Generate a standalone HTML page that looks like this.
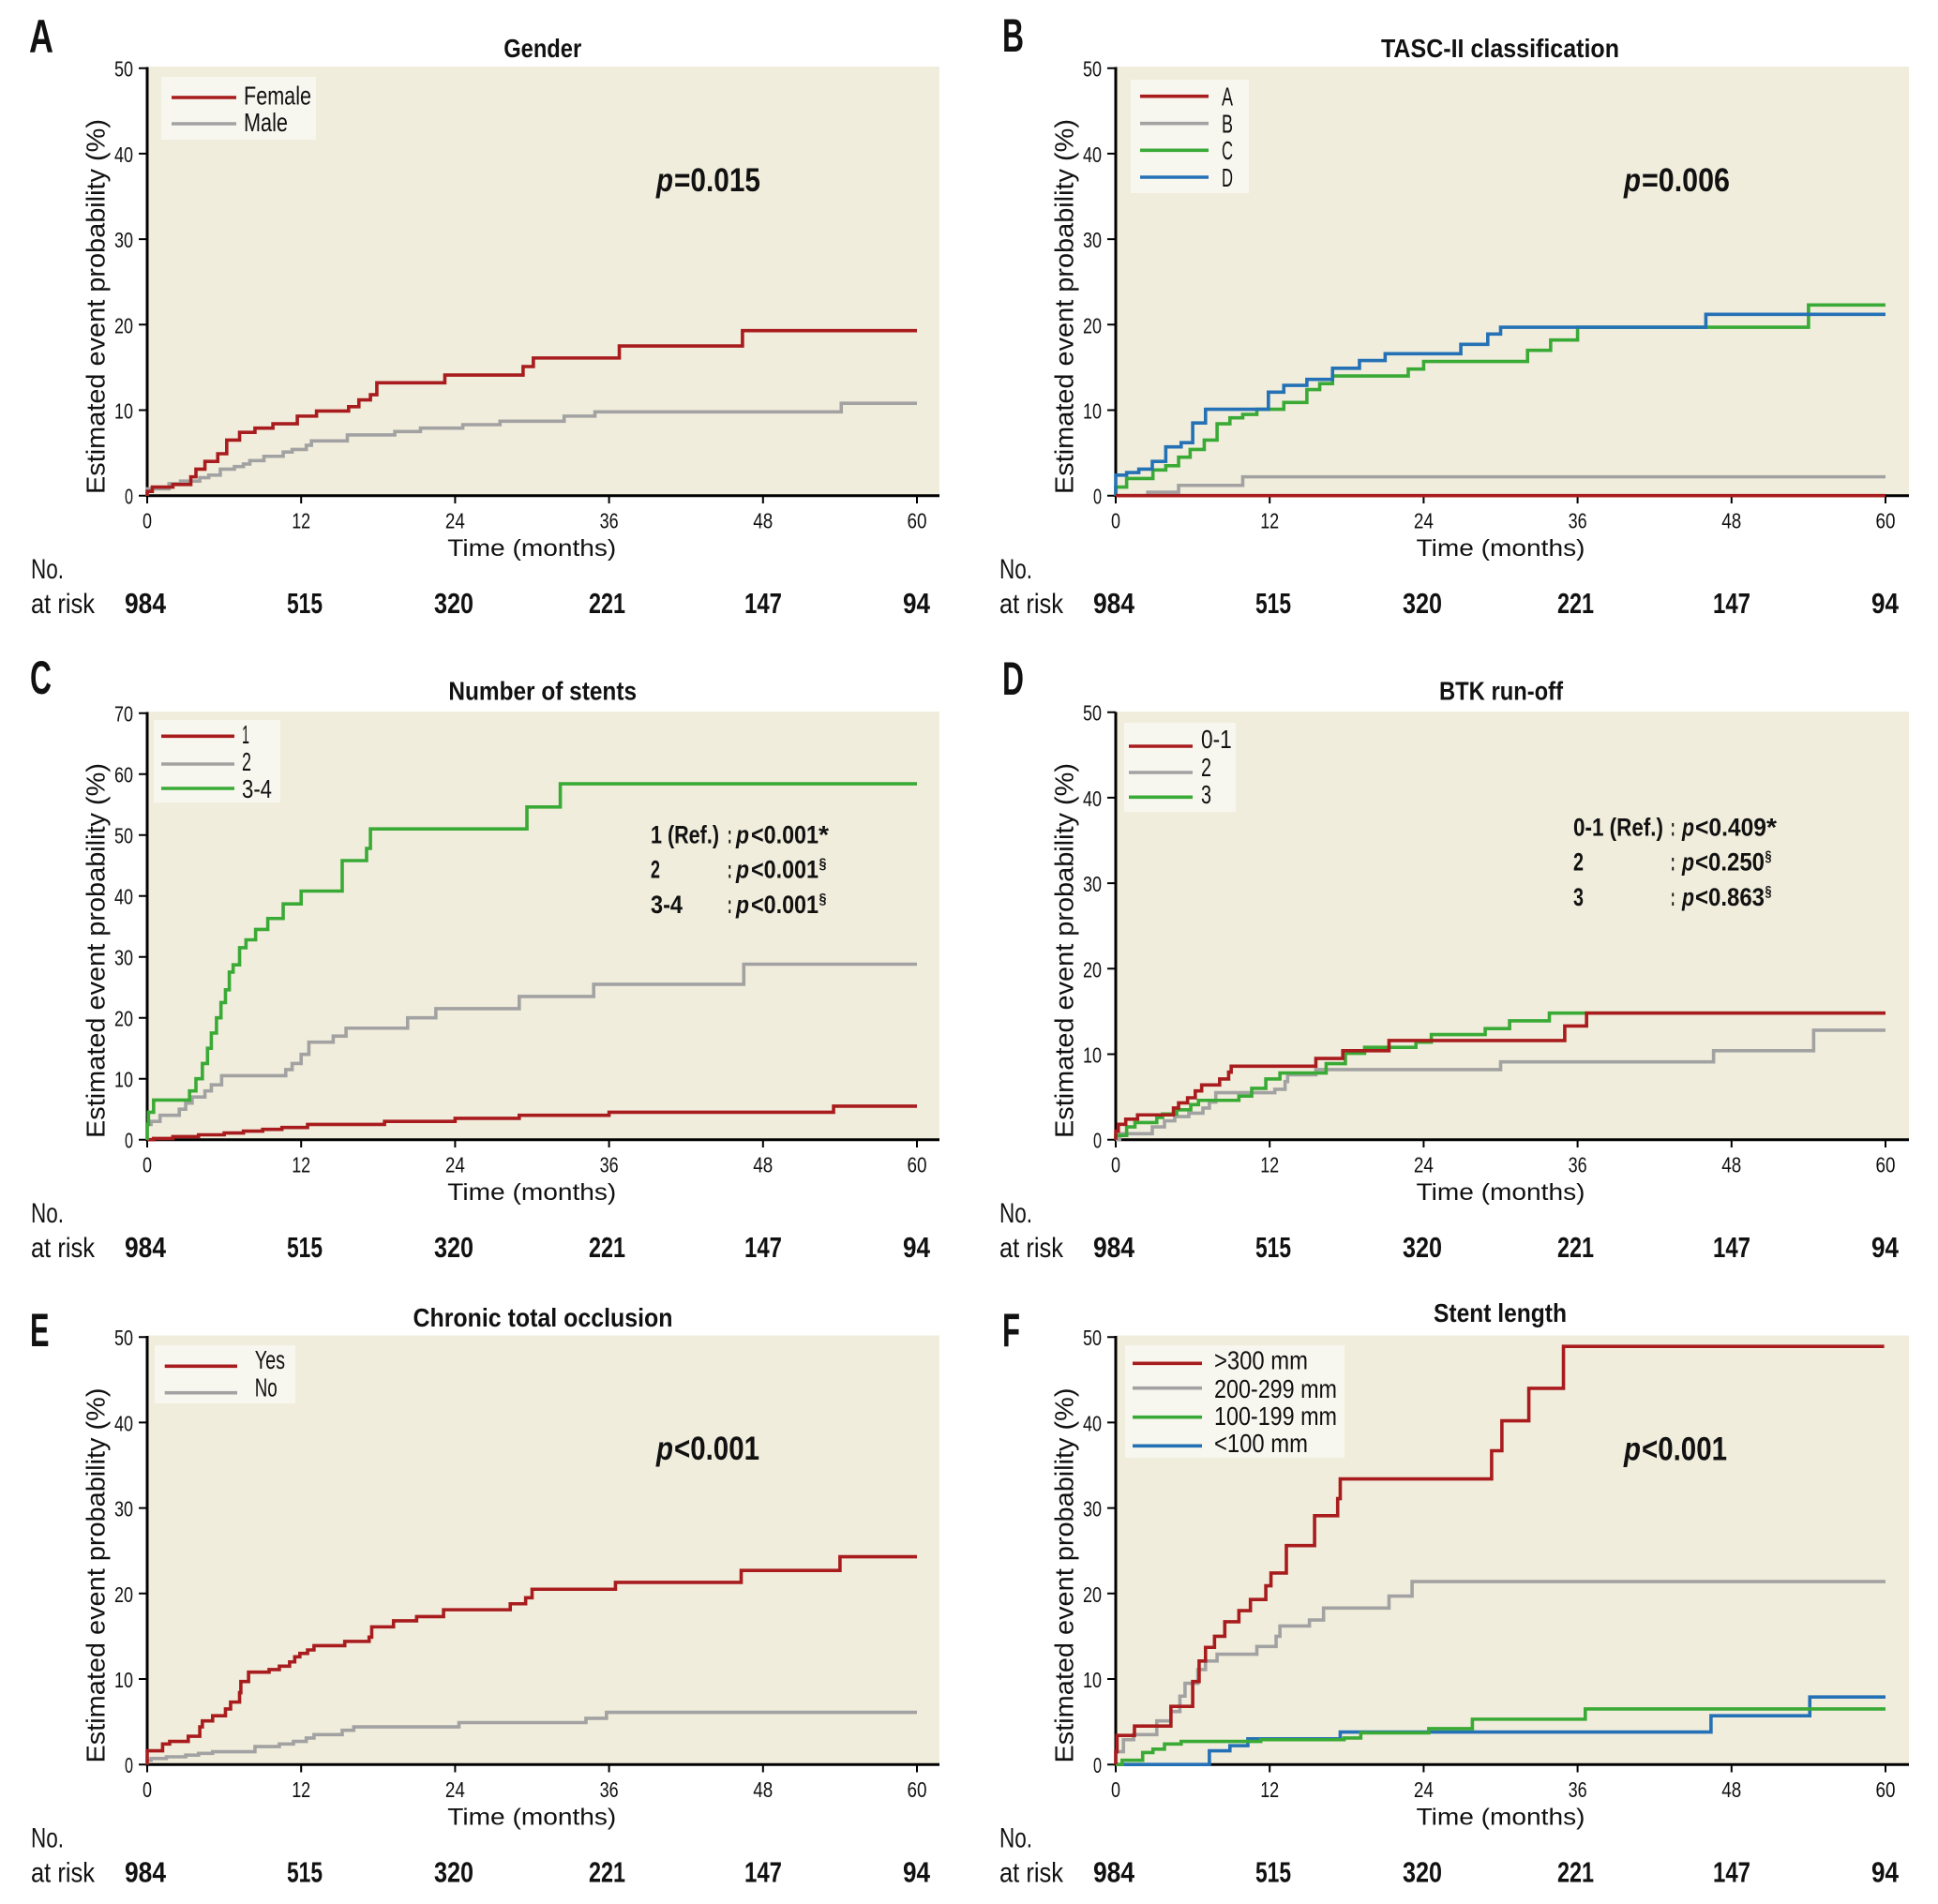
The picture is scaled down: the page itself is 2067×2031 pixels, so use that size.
<!DOCTYPE html>
<html><head><meta charset="utf-8"><style>
body{margin:0;background:#fff}
svg{display:block}
text{font-family:"Liberation Sans",Arial,sans-serif;fill:#111}
.b{font-weight:bold}
.i{font-style:italic}
.ax{stroke:#000;fill:none}
.s{fill:none;stroke-width:3.6;vector-effect:non-scaling-stroke;stroke-linejoin:miter;stroke-linecap:butt}
.r{stroke:#a81c1e}.g{stroke:#a2a2a2}.gr{stroke:#3aaa36}.bl{stroke:#2471b6}
.t{font-size:23px}
.lg{font-size:28px}
</style></head><body>
<svg width="2067" height="2031" viewBox="0 0 2067 2031" xmlns="http://www.w3.org/2000/svg">
<rect width="2067" height="2031" fill="#fff"/>

<!-- ================= PANEL A ================= -->
<g transform="translate(0,0)">
<text x="31" y="56" font-size="50" class="b" textLength="26" lengthAdjust="spacingAndGlyphs">A</text>
<text x="578.7" y="61" font-size="28" class="b" text-anchor="middle" textLength="83" lengthAdjust="spacingAndGlyphs">Gender</text>
<rect x="157" y="71" width="845" height="457.7" fill="#f1eddc"/>
<path class="ax" stroke-width="3" d="M157 71.5V530.2M155.5 528.7H1002"/>
<path class="ax" stroke-width="2" d="M148 72.7H157M148 163.9H157M148 255.1H157M148 346.3H157M148 437.5H157M148 528.7H157M157 528.7V537M321.2 528.7V537M485.4 528.7V537M649.6 528.7V537M813.8 528.7V537M978 528.7V537"/>
<g class="t" text-anchor="end">
<text x="142" y="537.7" textLength="9" lengthAdjust="spacingAndGlyphs">0</text>
<text x="142" y="446.5" textLength="20" lengthAdjust="spacingAndGlyphs">10</text>
<text x="142" y="355.3" textLength="20" lengthAdjust="spacingAndGlyphs">20</text>
<text x="142" y="264.1" textLength="20" lengthAdjust="spacingAndGlyphs">30</text>
<text x="142" y="172.9" textLength="20" lengthAdjust="spacingAndGlyphs">40</text>
<text x="142" y="81.7" textLength="20" lengthAdjust="spacingAndGlyphs">50</text>
</g>
<g class="t" text-anchor="middle">
<text x="157" y="563.3" textLength="10" lengthAdjust="spacingAndGlyphs">0</text>
<text x="321.2" y="563.3" textLength="20" lengthAdjust="spacingAndGlyphs">12</text>
<text x="485.4" y="563.3" textLength="21" lengthAdjust="spacingAndGlyphs">24</text>
<text x="649.6" y="563.3" textLength="20" lengthAdjust="spacingAndGlyphs">36</text>
<text x="813.8" y="563.3" textLength="21" lengthAdjust="spacingAndGlyphs">48</text>
<text x="978" y="563.3" textLength="21" lengthAdjust="spacingAndGlyphs">60</text>
</g>
<text x="567.3" y="593" font-size="25" text-anchor="middle" textLength="180" lengthAdjust="spacingAndGlyphs">Time (months)</text>
<text transform="translate(111.5,327) rotate(-90)" font-size="28" text-anchor="middle" textLength="400" lengthAdjust="spacingAndGlyphs">Estimated event probability (%)</text>
<text x="33" y="617" font-size="30" textLength="35" lengthAdjust="spacingAndGlyphs">No.</text>
<text x="33" y="654" font-size="30" textLength="68" lengthAdjust="spacingAndGlyphs">at risk</text>
<g font-size="31" class="b" text-anchor="middle">
<text x="155" y="654" textLength="44" lengthAdjust="spacingAndGlyphs">984</text>
<text x="325" y="654" textLength="38" lengthAdjust="spacingAndGlyphs">515</text>
<text x="484" y="654" textLength="42" lengthAdjust="spacingAndGlyphs">320</text>
<text x="647.5" y="654" textLength="39" lengthAdjust="spacingAndGlyphs">221</text>
<text x="814" y="654" textLength="40" lengthAdjust="spacingAndGlyphs">147</text>
<text x="977.5" y="654" textLength="29" lengthAdjust="spacingAndGlyphs">94</text>
</g>
<rect x="172" y="82" width="165" height="67" fill="#f8f7ef"/>
<line x1="183" y1="104" x2="252" y2="104" class="s r"/>
<line x1="183" y1="132" x2="252" y2="132" class="s g"/>
<text x="260" y="111.5" class="lg" textLength="72" lengthAdjust="spacingAndGlyphs">Female</text>
<text x="260" y="140" class="lg" textLength="47" lengthAdjust="spacingAndGlyphs">Male</text>
<text x="700" y="204" font-size="35" class="b i" textLength="18" lengthAdjust="spacingAndGlyphs">p</text>
<text x="719" y="204" font-size="35" class="b" textLength="92" lengthAdjust="spacingAndGlyphs">=0.015</text>
<g transform="translate(157,528.7) scale(13.683,-9.12)">
<path class="s g" d="M0 0V0.8H1.7V1.4H2.6V1.7H4.1V2.1H4.8V2.4H5.7V3.1H6.8V3.4H7.5V3.7H8V4.1H9.1V4.6H10.6V5.1H11.3V5.4H12.4V5.9H12.8V6.4H15.6V7.1H19.3V7.5H21.3V7.9H24.6V8.3H27.5V8.7H32.5V9.3H34.9V9.8H54.1V10.8H60"/>
<path class="s r" d="M0 0V0.5H0.4V1H2V1.3H3.4V2.2H3.8V3.1H4.5V4H5.5V4.9H6.2V6.5H7.2V7.4H8.4V7.9H9.8V8.4H11.7V9.3H13.2V9.9H15.7V10.4H16.5V11.2H17.4V11.8H17.9V13.2H23.2V14.1H29.3V15.1H30.1V16.1H36.8V17.5H46.4V19.3H60"/>
</g>
</g>

<!-- ================= PANEL B ================= -->
<g transform="translate(1033,0)">
<text x="36" y="55" font-size="50" class="b" textLength="23" lengthAdjust="spacingAndGlyphs">B</text>
<text x="567" y="61" font-size="28" class="b" text-anchor="middle" textLength="254" lengthAdjust="spacingAndGlyphs">TASC-II classification</text>
<rect x="157" y="71" width="846" height="457.7" fill="#f1eddc"/>
<path class="ax" stroke-width="3" d="M157 71.5V530.2M155.5 528.7H1003"/>
<path class="ax" stroke-width="2" d="M148 72.7H157M148 163.9H157M148 255.1H157M148 346.3H157M148 437.5H157M148 528.7H157M157 528.7V537M321.2 528.7V537M485.4 528.7V537M649.6 528.7V537M813.8 528.7V537M978 528.7V537"/>
<g class="t" text-anchor="end">
<text x="142" y="537.7" textLength="9" lengthAdjust="spacingAndGlyphs">0</text>
<text x="142" y="446.5" textLength="20" lengthAdjust="spacingAndGlyphs">10</text>
<text x="142" y="355.3" textLength="20" lengthAdjust="spacingAndGlyphs">20</text>
<text x="142" y="264.1" textLength="20" lengthAdjust="spacingAndGlyphs">30</text>
<text x="142" y="172.9" textLength="20" lengthAdjust="spacingAndGlyphs">40</text>
<text x="142" y="81.7" textLength="20" lengthAdjust="spacingAndGlyphs">50</text>
</g>
<g class="t" text-anchor="middle">
<text x="157" y="563.3" textLength="10" lengthAdjust="spacingAndGlyphs">0</text>
<text x="321.2" y="563.3" textLength="20" lengthAdjust="spacingAndGlyphs">12</text>
<text x="485.4" y="563.3" textLength="21" lengthAdjust="spacingAndGlyphs">24</text>
<text x="649.6" y="563.3" textLength="20" lengthAdjust="spacingAndGlyphs">36</text>
<text x="813.8" y="563.3" textLength="21" lengthAdjust="spacingAndGlyphs">48</text>
<text x="978" y="563.3" textLength="21" lengthAdjust="spacingAndGlyphs">60</text>
</g>
<text x="567.5" y="593" font-size="25" text-anchor="middle" textLength="180" lengthAdjust="spacingAndGlyphs">Time (months)</text>
<text transform="translate(111.5,327) rotate(-90)" font-size="28" text-anchor="middle" textLength="400" lengthAdjust="spacingAndGlyphs">Estimated event probability (%)</text>
<text x="33" y="617" font-size="30" textLength="35" lengthAdjust="spacingAndGlyphs">No.</text>
<text x="33" y="654" font-size="30" textLength="68" lengthAdjust="spacingAndGlyphs">at risk</text>
<g font-size="31" class="b" text-anchor="middle">
<text x="155" y="654" textLength="44" lengthAdjust="spacingAndGlyphs">984</text>
<text x="325" y="654" textLength="38" lengthAdjust="spacingAndGlyphs">515</text>
<text x="484" y="654" textLength="42" lengthAdjust="spacingAndGlyphs">320</text>
<text x="647.5" y="654" textLength="39" lengthAdjust="spacingAndGlyphs">221</text>
<text x="814" y="654" textLength="40" lengthAdjust="spacingAndGlyphs">147</text>
<text x="977.5" y="654" textLength="29" lengthAdjust="spacingAndGlyphs">94</text>
</g>
<rect x="173" y="85" width="126" height="121" fill="#f8f7ef"/>
<line x1="183" y1="102.7" x2="256" y2="102.7" class="s r"/>
<line x1="183" y1="131.7" x2="256" y2="131.7" class="s g"/>
<line x1="183" y1="160.3" x2="256" y2="160.3" class="s gr"/>
<line x1="183" y1="189" x2="256" y2="189" class="s bl"/>
<text x="270" y="112.5" class="lg" textLength="12" lengthAdjust="spacingAndGlyphs">A</text>
<text x="270" y="141.5" class="lg" textLength="12" lengthAdjust="spacingAndGlyphs">B</text>
<text x="270" y="170" class="lg" textLength="12" lengthAdjust="spacingAndGlyphs">C</text>
<text x="270" y="199" class="lg" textLength="12" lengthAdjust="spacingAndGlyphs">D</text>
<text x="699" y="204" font-size="35" class="b i" textLength="18" lengthAdjust="spacingAndGlyphs">p</text>
<text x="718" y="204" font-size="35" class="b" textLength="94" lengthAdjust="spacingAndGlyphs">=0.006</text>
<g transform="translate(157,528.7) scale(13.683,-9.12)">
<path class="s g" d="M0 0H2.5V0.4H4.9V1.2H9.9V2.2H60"/>
<path class="s gr" d="M0 0V1H0.85V2H2.9V3H3.9V3.5H4.9V4.5H5.8V5.4H6.9V6.5H7.9V8.4H8.9V9.1H9.9V9.5H11V10.1H13.1V10.9H14.9V12.4H15.9V13.1H16.9V14H22.8V14.8H24V15.7H32.1V17H33.9V18.2H36V19.7H54V22.3H60"/>
<path class="s bl" d="M0 0V2.4H0.85V2.7H1.8V3.1H2.85V4H3.9V5.7H5.1V6.2H6V8.5H7V10.1H11.9V12.1H13.1V12.9H14.9V13.6H16.9V14.9H19V15.8H21V16.6H26.9V17.7H29V18.9H30V19.7H46V21.2H60"/>
<path class="s r" d="M0 0H60"/>
</g>
</g>

<!-- ================= PANEL C ================= -->
<g transform="translate(0,687)">
<text x="32" y="53" font-size="50" class="b" textLength="23" lengthAdjust="spacingAndGlyphs">C</text>
<text x="578.7" y="59.7" font-size="28" class="b" text-anchor="middle" textLength="200.7" lengthAdjust="spacingAndGlyphs">Number of stents</text>
<rect x="157" y="72" width="845" height="456.7" fill="#f1eddc"/>
<path class="ax" stroke-width="3" d="M157 72.5V530.2M155.5 528.7H1002"/>
<path class="ax" stroke-width="2" d="M148 73.7H157M148 138.7H157M148 203.7H157M148 268.7H157M148 333.7H157M148 398.7H157M148 463.7H157M148 528.7H157M157 528.7V537M321.2 528.7V537M485.4 528.7V537M649.6 528.7V537M813.8 528.7V537M978 528.7V537"/>
<g class="t" text-anchor="end">
<text x="142" y="537.7" textLength="9" lengthAdjust="spacingAndGlyphs">0</text>
<text x="142" y="472.7" textLength="20" lengthAdjust="spacingAndGlyphs">10</text>
<text x="142" y="407.7" textLength="20" lengthAdjust="spacingAndGlyphs">20</text>
<text x="142" y="342.7" textLength="20" lengthAdjust="spacingAndGlyphs">30</text>
<text x="142" y="277.7" textLength="20" lengthAdjust="spacingAndGlyphs">40</text>
<text x="142" y="212.7" textLength="20" lengthAdjust="spacingAndGlyphs">50</text>
<text x="142" y="147.7" textLength="20" lengthAdjust="spacingAndGlyphs">60</text>
<text x="142" y="82.7" textLength="20" lengthAdjust="spacingAndGlyphs">70</text>
</g>
<g class="t" text-anchor="middle">
<text x="157" y="563.3" textLength="10" lengthAdjust="spacingAndGlyphs">0</text>
<text x="321.2" y="563.3" textLength="20" lengthAdjust="spacingAndGlyphs">12</text>
<text x="485.4" y="563.3" textLength="21" lengthAdjust="spacingAndGlyphs">24</text>
<text x="649.6" y="563.3" textLength="20" lengthAdjust="spacingAndGlyphs">36</text>
<text x="813.8" y="563.3" textLength="21" lengthAdjust="spacingAndGlyphs">48</text>
<text x="978" y="563.3" textLength="21" lengthAdjust="spacingAndGlyphs">60</text>
</g>
<text x="567.3" y="593" font-size="25" text-anchor="middle" textLength="180" lengthAdjust="spacingAndGlyphs">Time (months)</text>
<text transform="translate(111.5,327) rotate(-90)" font-size="28" text-anchor="middle" textLength="400" lengthAdjust="spacingAndGlyphs">Estimated event probability (%)</text>
<text x="33" y="617" font-size="30" textLength="35" lengthAdjust="spacingAndGlyphs">No.</text>
<text x="33" y="654" font-size="30" textLength="68" lengthAdjust="spacingAndGlyphs">at risk</text>
<g font-size="31" class="b" text-anchor="middle">
<text x="155" y="654" textLength="44" lengthAdjust="spacingAndGlyphs">984</text>
<text x="325" y="654" textLength="38" lengthAdjust="spacingAndGlyphs">515</text>
<text x="484" y="654" textLength="42" lengthAdjust="spacingAndGlyphs">320</text>
<text x="647.5" y="654" textLength="39" lengthAdjust="spacingAndGlyphs">221</text>
<text x="814" y="654" textLength="40" lengthAdjust="spacingAndGlyphs">147</text>
<text x="977.5" y="654" textLength="29" lengthAdjust="spacingAndGlyphs">94</text>
</g>
<rect x="164" y="81" width="135" height="88" fill="#f8f7ef"/>
<line x1="172" y1="98.3" x2="250" y2="98.3" class="s r"/>
<line x1="172" y1="128" x2="250" y2="128" class="s g"/>
<line x1="172" y1="154" x2="250" y2="154" class="s gr"/>
<text x="258" y="106" class="lg" textLength="8" lengthAdjust="spacingAndGlyphs">1</text>
<text x="258" y="135" class="lg" textLength="10" lengthAdjust="spacingAndGlyphs">2</text>
<text x="258" y="164" class="lg" textLength="32" lengthAdjust="spacingAndGlyphs">3-4</text>
<g font-size="27" class="b">
<text x="694" y="212.3" textLength="73" lengthAdjust="spacingAndGlyphs">1 (Ref.)</text>
<text x="776" y="212.3" textLength="4.5" lengthAdjust="spacingAndGlyphs">:</text>
<text x="785" y="212.3" class="i" textLength="14" lengthAdjust="spacingAndGlyphs">p</text>
<text x="801" y="212.3" textLength="72" lengthAdjust="spacingAndGlyphs">&lt;0.001</text>
<text x="873" y="212.3" textLength="11" lengthAdjust="spacingAndGlyphs">*</text>
<text x="694" y="249.7" textLength="10" lengthAdjust="spacingAndGlyphs">2</text>
<text x="776" y="249.7" textLength="4.5" lengthAdjust="spacingAndGlyphs">:</text>
<text x="785" y="249.7" class="i" textLength="14" lengthAdjust="spacingAndGlyphs">p</text>
<text x="801" y="249.7" textLength="72" lengthAdjust="spacingAndGlyphs">&lt;0.001</text>
<text x="873.5" y="239.7" font-size="16" textLength="8" lengthAdjust="spacingAndGlyphs">§</text>
<text x="694" y="287" textLength="34" lengthAdjust="spacingAndGlyphs">3-4</text>
<text x="776" y="287" textLength="4.5" lengthAdjust="spacingAndGlyphs">:</text>
<text x="785" y="287" class="i" textLength="14" lengthAdjust="spacingAndGlyphs">p</text>
<text x="801" y="287" textLength="72" lengthAdjust="spacingAndGlyphs">&lt;0.001</text>
<text x="873.5" y="277" font-size="16" textLength="8" lengthAdjust="spacingAndGlyphs">§</text>
</g>
<g transform="translate(157,528.7) scale(13.683,-6.5)">
<path class="s r" d="M0 0H0.5V0.2H2V0.5H4V0.8H6V1.1H7.5V1.4H9V1.7H10.5V2H12.5V2.5H18.5V3H24V3.5H29V4H36V4.5H53.5V5.5H60"/>
<path class="s g" d="M0 0V2.5H0.3V3H1V4H2.5V5H3V6H3.5V7H4.5V8H5V9H5.8V10.5H10.8V11.5H11.3V12.5H12V14H12.6V16H14.5V17H15.5V18.3H20.3V20H22.5V21.5H29V23.5H34.8V25.5H46.5V28.8H60"/>
<path class="s gr" d="M0 0V2.5H0.1V4.5H0.5V6.5H3.3V8H3.8V10H4.3V12.5H4.7V15H5V17.5H5.4V20H5.75V22.5H6.1V24.6H6.4V27.5H6.7V28.7H7.2V31.5H7.7V32.8H8.45V34.5H9.4V36.3H10.6V38.7H12V40.8H15.2V45.8H17.1V47.8H17.4V51H29.6V54.6H32.2V58.4H60"/>
</g>
</g>

<!-- ================= PANEL D ================= -->
<g transform="translate(1033,687)">
<text x="36" y="54" font-size="50" class="b" textLength="23" lengthAdjust="spacingAndGlyphs">D</text>
<text x="568" y="59.7" font-size="28" class="b" text-anchor="middle" textLength="132" lengthAdjust="spacingAndGlyphs">BTK run-off</text>
<rect x="157" y="72" width="846" height="456.7" fill="#f1eddc"/>
<path class="ax" stroke-width="3" d="M157 72.5V530.2M155.5 528.7H1003"/>
<path class="ax" stroke-width="2" d="M148 72.7H157M148 163.9H157M148 255.1H157M148 346.3H157M148 437.5H157M148 528.7H157M157 528.7V537M321.2 528.7V537M485.4 528.7V537M649.6 528.7V537M813.8 528.7V537M978 528.7V537"/>
<g class="t" text-anchor="end">
<text x="142" y="537.7" textLength="9" lengthAdjust="spacingAndGlyphs">0</text>
<text x="142" y="446.5" textLength="20" lengthAdjust="spacingAndGlyphs">10</text>
<text x="142" y="355.3" textLength="20" lengthAdjust="spacingAndGlyphs">20</text>
<text x="142" y="264.1" textLength="20" lengthAdjust="spacingAndGlyphs">30</text>
<text x="142" y="172.9" textLength="20" lengthAdjust="spacingAndGlyphs">40</text>
<text x="142" y="81.7" textLength="20" lengthAdjust="spacingAndGlyphs">50</text>
</g>
<g class="t" text-anchor="middle">
<text x="157" y="563.3" textLength="10" lengthAdjust="spacingAndGlyphs">0</text>
<text x="321.2" y="563.3" textLength="20" lengthAdjust="spacingAndGlyphs">12</text>
<text x="485.4" y="563.3" textLength="21" lengthAdjust="spacingAndGlyphs">24</text>
<text x="649.6" y="563.3" textLength="20" lengthAdjust="spacingAndGlyphs">36</text>
<text x="813.8" y="563.3" textLength="21" lengthAdjust="spacingAndGlyphs">48</text>
<text x="978" y="563.3" textLength="21" lengthAdjust="spacingAndGlyphs">60</text>
</g>
<text x="567.5" y="593" font-size="25" text-anchor="middle" textLength="180" lengthAdjust="spacingAndGlyphs">Time (months)</text>
<text transform="translate(111.5,327) rotate(-90)" font-size="28" text-anchor="middle" textLength="400" lengthAdjust="spacingAndGlyphs">Estimated event probability (%)</text>
<text x="33" y="617" font-size="30" textLength="35" lengthAdjust="spacingAndGlyphs">No.</text>
<text x="33" y="654" font-size="30" textLength="68" lengthAdjust="spacingAndGlyphs">at risk</text>
<g font-size="31" class="b" text-anchor="middle">
<text x="155" y="654" textLength="44" lengthAdjust="spacingAndGlyphs">984</text>
<text x="325" y="654" textLength="38" lengthAdjust="spacingAndGlyphs">515</text>
<text x="484" y="654" textLength="42" lengthAdjust="spacingAndGlyphs">320</text>
<text x="647.5" y="654" textLength="39" lengthAdjust="spacingAndGlyphs">221</text>
<text x="814" y="654" textLength="40" lengthAdjust="spacingAndGlyphs">147</text>
<text x="977.5" y="654" textLength="29" lengthAdjust="spacingAndGlyphs">94</text>
</g>
<rect x="166" y="84" width="119" height="95" fill="#f8f7ef"/>
<line x1="171" y1="109" x2="239" y2="109" class="s r"/>
<line x1="171" y1="137" x2="239" y2="137" class="s g"/>
<line x1="171" y1="163.3" x2="239" y2="163.3" class="s gr"/>
<text x="248" y="111" class="lg" textLength="32.7" lengthAdjust="spacingAndGlyphs">0-1</text>
<text x="248" y="141" class="lg" textLength="11" lengthAdjust="spacingAndGlyphs">2</text>
<text x="248" y="170" class="lg" textLength="11" lengthAdjust="spacingAndGlyphs">3</text>
<g font-size="27" class="b">
<text x="645" y="204.7" textLength="96" lengthAdjust="spacingAndGlyphs">0-1 (Ref.)</text>
<text x="749" y="204.7" textLength="4.5" lengthAdjust="spacingAndGlyphs">:</text>
<text x="761" y="204.7" class="i" textLength="13" lengthAdjust="spacingAndGlyphs">p</text>
<text x="775" y="204.7" textLength="76" lengthAdjust="spacingAndGlyphs">&lt;0.409</text>
<text x="851" y="204.7" textLength="11" lengthAdjust="spacingAndGlyphs">*</text>
<text x="645" y="241.3" textLength="11" lengthAdjust="spacingAndGlyphs">2</text>
<text x="749" y="241.3" textLength="4.5" lengthAdjust="spacingAndGlyphs">:</text>
<text x="761" y="241.3" class="i" textLength="13" lengthAdjust="spacingAndGlyphs">p</text>
<text x="775" y="241.3" textLength="74" lengthAdjust="spacingAndGlyphs">&lt;0.250</text>
<text x="849.5" y="231.3" font-size="16" textLength="7" lengthAdjust="spacingAndGlyphs">§</text>
<text x="645" y="279" textLength="11" lengthAdjust="spacingAndGlyphs">3</text>
<text x="749" y="279" textLength="4.5" lengthAdjust="spacingAndGlyphs">:</text>
<text x="761" y="279" class="i" textLength="13" lengthAdjust="spacingAndGlyphs">p</text>
<text x="775" y="279" textLength="74" lengthAdjust="spacingAndGlyphs">&lt;0.863</text>
<text x="849.5" y="269" font-size="16" textLength="7" lengthAdjust="spacingAndGlyphs">§</text>
</g>
<g transform="translate(157,528.7) scale(13.683,-9.12)">
<path class="s g" d="M0 0H0.3V0.7H2.85V1.5H3.8V2.2H4.6V2.7H5.7V3.1H6.8V3.7H7.3V4.4H7.8V5.5H12.4V5.9H13.2V6.8H13.4V7.6H15.6V8.2H30V9.1H46.6V10.4H54.4V12.8H60"/>
<path class="s gr" d="M0 0V0.5H0.85V1.5H1.5V2H3.2V2.6H3.65V3H4.75V3.5H5.85V4.1H6.45V4.6H9.6V5.1H10.6V6H11.7V7.1H12.8V7.8H16.4V8.9H17.9V10.1H19.4V10.8H23.4V11.4H24.6V12.3H28.8V13H30.7V13.9H33.8V14.8H60"/>
<path class="s r" d="M0 0V1H0.2V1.8H0.78V2.4H1.7V2.9H4.5V3.7H4.9V4.3H5.6V4.9H6.2V5.7H6.7V6.4H8.1V7.1H8.8V7.9H9V8.6H15.6V9.5H17.7V10.4H21.3V11.6H35V13.3H36.7V14.8H60"/>
</g>
</g>

<!-- ================= PANEL E ================= -->
<g transform="translate(0,1353.5)">
<text x="32" y="82.5" font-size="50" class="b" textLength="20.5" lengthAdjust="spacingAndGlyphs">E</text>
<text x="579" y="61.5" font-size="28" class="b" text-anchor="middle" textLength="277" lengthAdjust="spacingAndGlyphs">Chronic total occlusion</text>
<rect x="157" y="71" width="845" height="457.7" fill="#f1eddc"/>
<path class="ax" stroke-width="3" d="M157 71.5V530.2M155.5 528.7H1002"/>
<path class="ax" stroke-width="2" d="M148 72.7H157M148 163.9H157M148 255.1H157M148 346.3H157M148 437.5H157M148 528.7H157M157 528.7V537M321.2 528.7V537M485.4 528.7V537M649.6 528.7V537M813.8 528.7V537M978 528.7V537"/>
<g class="t" text-anchor="end">
<text x="142" y="537.7" textLength="9" lengthAdjust="spacingAndGlyphs">0</text>
<text x="142" y="446.5" textLength="20" lengthAdjust="spacingAndGlyphs">10</text>
<text x="142" y="355.3" textLength="20" lengthAdjust="spacingAndGlyphs">20</text>
<text x="142" y="264.1" textLength="20" lengthAdjust="spacingAndGlyphs">30</text>
<text x="142" y="172.9" textLength="20" lengthAdjust="spacingAndGlyphs">40</text>
<text x="142" y="81.7" textLength="20" lengthAdjust="spacingAndGlyphs">50</text>
</g>
<g class="t" text-anchor="middle">
<text x="157" y="563.3" textLength="10" lengthAdjust="spacingAndGlyphs">0</text>
<text x="321.2" y="563.3" textLength="20" lengthAdjust="spacingAndGlyphs">12</text>
<text x="485.4" y="563.3" textLength="21" lengthAdjust="spacingAndGlyphs">24</text>
<text x="649.6" y="563.3" textLength="20" lengthAdjust="spacingAndGlyphs">36</text>
<text x="813.8" y="563.3" textLength="21" lengthAdjust="spacingAndGlyphs">48</text>
<text x="978" y="563.3" textLength="21" lengthAdjust="spacingAndGlyphs">60</text>
</g>
<text x="567.3" y="593" font-size="25" text-anchor="middle" textLength="180" lengthAdjust="spacingAndGlyphs">Time (months)</text>
<text transform="translate(111.5,327) rotate(-90)" font-size="28" text-anchor="middle" textLength="400" lengthAdjust="spacingAndGlyphs">Estimated event probability (%)</text>
<text x="33" y="617" font-size="30" textLength="35" lengthAdjust="spacingAndGlyphs">No.</text>
<text x="33" y="654" font-size="30" textLength="68" lengthAdjust="spacingAndGlyphs">at risk</text>
<g font-size="31" class="b" text-anchor="middle">
<text x="155" y="654" textLength="44" lengthAdjust="spacingAndGlyphs">984</text>
<text x="325" y="654" textLength="38" lengthAdjust="spacingAndGlyphs">515</text>
<text x="484" y="654" textLength="42" lengthAdjust="spacingAndGlyphs">320</text>
<text x="647.5" y="654" textLength="39" lengthAdjust="spacingAndGlyphs">221</text>
<text x="814" y="654" textLength="40" lengthAdjust="spacingAndGlyphs">147</text>
<text x="977.5" y="654" textLength="29" lengthAdjust="spacingAndGlyphs">94</text>
</g>
<rect x="165" y="81.5" width="150" height="62" fill="#f8f7ef"/>
<line x1="175.7" y1="103.8" x2="253" y2="103.8" class="s r"/>
<line x1="175.7" y1="132.2" x2="253" y2="132.2" class="s g"/>
<text x="271.7" y="106.5" class="lg" textLength="32.3" lengthAdjust="spacingAndGlyphs">Yes</text>
<text x="271.7" y="135.8" class="lg" textLength="24" lengthAdjust="spacingAndGlyphs">No</text>
<text x="700" y="203.5" font-size="35" class="b i" textLength="18" lengthAdjust="spacingAndGlyphs">p</text>
<text x="719" y="203.5" font-size="35" class="b" textLength="91" lengthAdjust="spacingAndGlyphs">&lt;0.001</text>
<g transform="translate(157,528.7) scale(13.683,-9.12)">
<path class="s g" d="M0 0V0.5H0.3V0.7H1.5V0.9H3V1.1H4V1.3H5.1V1.5H8.4V2.1H10.3V2.4H11.4V2.7H12.4V3.1H13V3.5H15.2V4H16.1V4.4H24.3V4.9H34.2V5.4H35.8V6.1H60"/>
<path class="s r" d="M0 0V1.6H1.2V2.4H1.75V2.7H3.2V3.3H4.1V4.4H4.3V5.1H5.1V5.7H6.1V6.5H6.5V7.3H7.2V8.4H7.3V9.7H7.9V10.8H9.5V11.1H10.3V11.5H11.1V12H11.5V12.6H11.9V13H12.5V13.4H13V13.9H15.4V14.4H17.3V14.9H17.5V16.1H19.2V16.8H21V17.3H23.1V18.1H28.3V18.8H29.5V19.5H30V20.5H36.5V21.3H46.3V22.7H54V24.3H60"/>
</g>
</g>

<!-- ================= PANEL F ================= -->
<g transform="translate(1033,1353.5)">
<text x="36" y="82.5" font-size="50" class="b" textLength="19" lengthAdjust="spacingAndGlyphs">F</text>
<text x="567" y="56.5" font-size="28" class="b" text-anchor="middle" textLength="142" lengthAdjust="spacingAndGlyphs">Stent length</text>
<rect x="157" y="71" width="846" height="457.7" fill="#f1eddc"/>
<path class="ax" stroke-width="3" d="M157 71.5V530.2M155.5 528.7H1003"/>
<path class="ax" stroke-width="2" d="M148 72.7H157M148 163.9H157M148 255.1H157M148 346.3H157M148 437.5H157M148 528.7H157M157 528.7V537M321.2 528.7V537M485.4 528.7V537M649.6 528.7V537M813.8 528.7V537M978 528.7V537"/>
<g class="t" text-anchor="end">
<text x="142" y="537.7" textLength="9" lengthAdjust="spacingAndGlyphs">0</text>
<text x="142" y="446.5" textLength="20" lengthAdjust="spacingAndGlyphs">10</text>
<text x="142" y="355.3" textLength="20" lengthAdjust="spacingAndGlyphs">20</text>
<text x="142" y="264.1" textLength="20" lengthAdjust="spacingAndGlyphs">30</text>
<text x="142" y="172.9" textLength="20" lengthAdjust="spacingAndGlyphs">40</text>
<text x="142" y="81.7" textLength="20" lengthAdjust="spacingAndGlyphs">50</text>
</g>
<g class="t" text-anchor="middle">
<text x="157" y="563.3" textLength="10" lengthAdjust="spacingAndGlyphs">0</text>
<text x="321.2" y="563.3" textLength="20" lengthAdjust="spacingAndGlyphs">12</text>
<text x="485.4" y="563.3" textLength="21" lengthAdjust="spacingAndGlyphs">24</text>
<text x="649.6" y="563.3" textLength="20" lengthAdjust="spacingAndGlyphs">36</text>
<text x="813.8" y="563.3" textLength="21" lengthAdjust="spacingAndGlyphs">48</text>
<text x="978" y="563.3" textLength="21" lengthAdjust="spacingAndGlyphs">60</text>
</g>
<text x="567.5" y="593" font-size="25" text-anchor="middle" textLength="180" lengthAdjust="spacingAndGlyphs">Time (months)</text>
<text transform="translate(111.5,327) rotate(-90)" font-size="28" text-anchor="middle" textLength="400" lengthAdjust="spacingAndGlyphs">Estimated event probability (%)</text>
<text x="33" y="617" font-size="30" textLength="35" lengthAdjust="spacingAndGlyphs">No.</text>
<text x="33" y="654" font-size="30" textLength="68" lengthAdjust="spacingAndGlyphs">at risk</text>
<g font-size="31" class="b" text-anchor="middle">
<text x="155" y="654" textLength="44" lengthAdjust="spacingAndGlyphs">984</text>
<text x="325" y="654" textLength="38" lengthAdjust="spacingAndGlyphs">515</text>
<text x="484" y="654" textLength="42" lengthAdjust="spacingAndGlyphs">320</text>
<text x="647.5" y="654" textLength="39" lengthAdjust="spacingAndGlyphs">221</text>
<text x="814" y="654" textLength="40" lengthAdjust="spacingAndGlyphs">147</text>
<text x="977.5" y="654" textLength="29" lengthAdjust="spacingAndGlyphs">94</text>
</g>
<rect x="167" y="81.5" width="234" height="120" fill="#f8f7ef"/>
<line x1="175" y1="100.8" x2="249" y2="100.8" class="s r"/>
<line x1="175" y1="127.2" x2="249" y2="127.2" class="s g"/>
<line x1="175" y1="158.2" x2="249" y2="158.2" class="s gr"/>
<line x1="175" y1="188.8" x2="249" y2="188.8" class="s bl"/>
<text x="262" y="107.2" class="lg" textLength="100" lengthAdjust="spacingAndGlyphs">&gt;300 mm</text>
<text x="262" y="137.5" class="lg" textLength="131" lengthAdjust="spacingAndGlyphs">200-299 mm</text>
<text x="262" y="166.5" class="lg" textLength="131" lengthAdjust="spacingAndGlyphs">100-199 mm</text>
<text x="262" y="195.5" class="lg" textLength="100" lengthAdjust="spacingAndGlyphs">&lt;100 mm</text>
<text x="699" y="203.8" font-size="35" class="b i" textLength="18" lengthAdjust="spacingAndGlyphs">p</text>
<text x="718" y="203.8" font-size="35" class="b" textLength="91" lengthAdjust="spacingAndGlyphs">&lt;0.001</text>
<g transform="translate(157,528.7) scale(13.683,-9.12)">
<path class="s bl" d="M0 0H7.3V1.6H8.9V2.2H10.3V3H17.5V3.8H46.4V5.7H54.1V7.9H60"/>
<path class="s gr" d="M0 0H0.5V0.5H2.1V1.4H2.9V1.8H3.8V2.4H5.1V2.7H11.3V2.9H17.8V3.1H19.1V3.7H24.4V4.2H27.8V5.3H36.6V6.5H60"/>
<path class="s g" d="M0 0V1.5H0.6V2.9H1.4V3.5H3.2V5.1H4.3V6.2H5V8H5.4V9.5H6.4V11.1H7V12.1H7.9V12.9H11V13.8H12.5V15H12.8V16.2H15.1V16.9H16.2V18.3H21.3V19.7H23.1V21.4H60"/>
<path class="s r" d="M0 0V1.5H0.1V3.4H1.46V4.5H4.3V6.8H6V9.7H6.5V12.1H7V13.7H7.7V15H8.5V16.7H9.6V18H10.5V19.3H11.7V20.9H12.1V22.4H13.3V25.6H15.5V29.1H17.3V31.1H17.5V33.4H29.3V36.7H30.1V40.2H32.2V44H34.9V48.9H59.9"/>
</g>
</g>
</svg>
</body></html>
